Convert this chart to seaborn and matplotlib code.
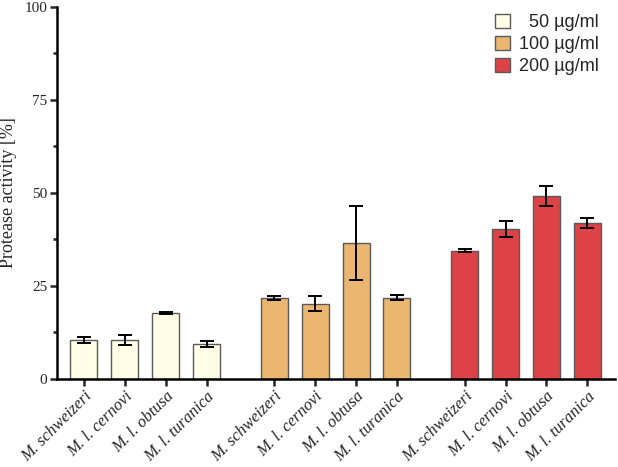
#!/usr/bin/env python3

import numpy as np
import pandas as pd
import seaborn as sns
import matplotlib.pyplot as plt
import matplotlib.transforms as mtransforms
from matplotlib.ticker import MultipleLocator

sns.set_theme(style="ticks")
plt.rcParams["font.family"] = ["Liberation Serif", "DejaVu Serif"]

species = ["M. schweizeri", "M. l. cernovi", "M. l. obtusa", "M. l. turanica"]
concentrations = ["  50 µg/ml", "100 µg/ml", "200 µg/ml"]

mean_50 = [10.4, 10.4, 17.7, 9.4]
err_50 = [0.85, 1.3, 0.2, 0.75]
mean_100 = [21.7, 20.2, 36.5, 21.8]
err_100 = [0.6, 1.9, 10.0, 0.75]
mean_200 = [34.4, 40.2, 49.0, 41.8]
err_200 = [0.45, 2.05, 2.7, 1.4]

colors = ["#FFFDE6", "#EBB670", "#DC4246"]
GROUP_STEP = 4.66

if __name__ == "__main__":
    rows = []
    for g, (conc, means, errs) in enumerate(
        zip(concentrations, [mean_50, mean_100, mean_200], [err_50, err_100, err_200])
    ):
        for i, sp in enumerate(species):
            rows.append(
                {"species": sp, "conc": conc, "mean": means[i], "err": errs[i],
                 "pos": g * GROUP_STEP + i}
            )
    df = pd.DataFrame(rows)

    fig = plt.figure(figsize=(6.18, 4.67), dpi=100)
    ax = fig.add_axes([0.0922, 0.189, 0.903, 0.797])

    sns.barplot(
        data=df, x="pos", y="mean", hue="conc", hue_order=concentrations,
        palette=colors, saturation=1, native_scale=True, dodge=False, width=0.66,
        edgecolor="#5a5a5a", linewidth=1.0, errorbar=None, ax=ax,
    )
    ax.errorbar(
        df["pos"], df["mean"], yerr=df["err"], fmt="none", ecolor="black",
        elinewidth=1.4, capsize=4.7, capthick=1.4, zorder=5,
    )

    ax.set_xlim(-0.66, 2 * GROUP_STEP + 3 + 0.68)
    ax.set_ylim(0, 100)
    ax.yaxis.set_major_locator(MultipleLocator(25))
    ax.yaxis.set_minor_locator(MultipleLocator(12.5))
    ax.set_xticks(df["pos"])
    ax.set_xticklabels(
        df["species"], rotation=45, ha="right", rotation_mode="anchor",
        fontstyle="italic", fontsize=12,
    )
    # nudge the slanted labels a little right so they end beside the tick
    offset = mtransforms.ScaledTranslation(5 / 72, 1 / 72, fig.dpi_scale_trans)
    for lbl in ax.get_xticklabels():
        lbl.set_transform(lbl.get_transform() + offset)
    ax.set_xlabel("")
    ax.set_ylabel("Protease activity [%]", fontsize=13)
    ax.yaxis.set_label_coords(-0.072, 0.5)

    for s in ["top", "right"]:
        ax.spines[s].set_visible(False)
    for s in ["left", "bottom"]:
        ax.spines[s].set_linewidth(1.8)
        ax.spines[s].set_color("black")
    ax.tick_params(axis="y", which="major", length=5, width=1.8, labelsize=11, pad=2)
    ax.tick_params(axis="y", which="minor", length=3, width=1.8)
    ax.tick_params(axis="x", length=5, width=1.8, pad=2)

    handles, labels = ax.get_legend_handles_labels()
    ax.legend(
        handles, labels, frameon=False, loc="upper right",
        bbox_to_anchor=(0.995, 1.005), bbox_transform=fig.transFigure,
        prop={"family": "Liberation Sans", "size": 13},
        handlelength=0.82, handleheight=0.82, handletextpad=0.5, labelspacing=0.25,
    )

    plt.savefig("out.png", dpi=100)
